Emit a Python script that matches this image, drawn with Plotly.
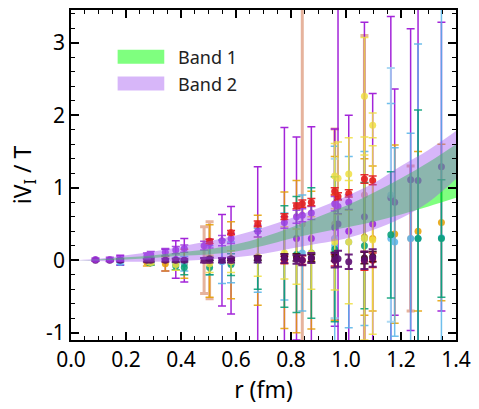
import plotly.graph_objects as go

# ---------------- data ----------------
# upper purple points
r_pu = [0.089, 0.141, 0.179, 0.276, 0.29, 0.343, 0.381, 0.412, 0.484, 0.504, 0.549, 0.582, 0.679, 0.776, 0.82, 0.841, 0.874, 0.959, 0.971, 1.01]
y_pu = [0.01, 0.01, 0.02, 0.06, 0.08, 0.11, 0.14, 0.16, 0.2, 0.23, 0.27, 0.3, 0.4, 0.52, 0.6, 0.62, 0.65, 0.78, 0.74, 0.8]
e_pu = [0.02, 0.03, 0.03, 0.04, 0.04, 0.05, 0.05, 0.05, 0.06, 0.06, 0.07, 0.07, 0.08, 0.08, 0.09, 0.09, 0.09, 0.1, 0.1, 0.1]

# red points
r_rd = [0.504, 0.582, 0.679, 0.776, 0.82, 0.841, 0.874, 0.959, 0.971, 1.01, 1.067, 1.097]
y_rd = [0.26, 0.38, 0.5, 0.6, 0.75, 0.78, 0.8, 0.95, 0.88, 0.92, 1.12, 1.1]
e_rd = [0.03, 0.03, 0.04, 0.04, 0.04, 0.05, 0.05, 0.05, 0.05, 0.05, 0.06, 0.06]

# purple points with large errors
r_pb = [0.179, 0.343, 0.381, 0.412, 0.549, 0.582, 0.679, 0.776, 0.82, 0.874, 0.959, 0.971, 1.01, 1.067, 1.097, 1.163, 1.177, 1.235, 1.262, 1.347]
y_pb = [0.0, 0.0, 0.01, 0.0, 0.0, 0.0, 0.02, 0.05, 0.3, 0.3, 0.45, 0.5, 0.4, 0.6, 0.5, 0.86, 0.8, 1.11, 1.1, 1.29]
e_pb = [0.07, 0.15, 0.26, 0.3, 0.63, 0.74, 1.27, 1.78, 1.4, 1.54, 1.36, 3.5, 1.6, 2.68, 1.8, 2.5, 1.56, 2.08, 3.0, 1.99]

# orange
r_or = [0.276, 0.343, 0.412, 0.504, 0.582, 0.679, 0.776, 0.82, 0.874, 0.959, 1.067, 1.097, 1.177, 1.262, 1.347]
y_or = [-0.03, -0.05, -0.05, -0.01, 0.0, 0.0, 0.0, 0.05, 0.0, 0.3, 0.32, 0.3, 0.36, 0.4, 0.52]
e_or = [0.05, 0.1, 0.2, 0.5, 0.53, 0.62, 0.94, 1.05, 0.95, 1.13, 1.08, 1.0, 1.23, 1.1, 1.08]

# salmon (thick bars)
r_sa = [0.484, 0.504, 0.841, 0.959, 1.067, 1.235]
y_sa = [0.0, 0.0, 0.5, 0.5, 0.9, 0.3]
e_sa = [0.46, 0.53, 3.5, 1.31, 2.2, 1.0]

# yellow, upper points
r_yu = [0.959, 0.971, 1.01, 1.067, 1.097]
y_yu = [1.16, 1.13, 1.19, 2.26, 1.86]
e_yu = [0.45, 0.5, 0.5, 0.81, 0.17]

# yellow, lower points
r_yl = [0.29, 0.381, 0.504, 0.582, 0.679, 0.776, 0.82, 0.874, 0.959, 1.01, 1.067, 1.097]
y_yl = [-0.03, -0.06, -0.05, -0.02, 0.05, 0.1, 0.05, 0.1, 0.25, 0.25, 0.3, 0.28]
e_yl = [0.03, 0.08, 0.12, 0.15, 0.27, 0.36, 0.38, 0.5, 0.66, 0.85, 1.4, 1.3]

# sky blue
r_sk = [0.179, 0.29, 0.381, 0.412, 0.504, 0.549, 0.582, 0.679, 0.776, 0.841, 0.959, 1.01, 1.067, 1.163, 1.177, 1.235, 1.262, 1.347]
y_sk = [-0.03, -0.03, -0.05, -0.05, 0.0, -0.02, -0.03, 0.0, 0.05, 0.1, 0.2, 0.25, 0.3, 0.3, 0.25, 0.3, 0.3, 0.31]
e_sk = [0.03, 0.03, 0.08, 0.1, 0.2, 0.3, 0.28, 0.44, 0.6, 0.8, 1.37, 1.18, 1.2, 1.86, 1.3, 1.45, 2.68, 4.0]

# light blue
r_lb = [0.959, 1.163]
y_lb = [0.3, 0.9]
e_lb = [1.1, 1.75]

# green
r_gr = [0.29, 0.381, 0.412, 0.504, 0.582, 0.679, 0.776, 0.82, 0.874, 0.959, 1.067, 1.163, 1.262, 1.347]
y_gr = [-0.04, -0.08, -0.1, -0.1, -0.06, 0.0, 0.05, 0.08, 0.1, 0.15, 0.2, 0.35, 0.3, 0.3]
e_gr = [0.03, 0.05, 0.1, 0.1, 0.15, 0.4, 0.7, 0.8, 0.9, 1.0, 0.87, 0.87, 1.77, 0.81]

# dark purple, near zero
r_dp = [0.089, 0.141, 0.179, 0.276, 0.29, 0.343, 0.381, 0.412, 0.484, 0.504, 0.549, 0.582, 0.679, 0.776, 0.82, 0.841, 0.874, 0.959, 0.971, 1.01, 1.067, 1.097]
y_dp = [0.0, 0.0, 0.0, 0.0, 0.0, 0.0, 0.0, 0.0, 0.0, 0.0, 0.0, 0.0, 0.01, 0.02, 0.01, 0.0, 0.03, 0.0, 0.02, -0.02, 0.0, 0.03]
e_dp = [0.01, 0.01, 0.02, 0.02, 0.02, 0.02, 0.02, 0.02, 0.03, 0.03, 0.03, 0.03, 0.04, 0.06, 0.06, 0.07, 0.07, 0.1, 0.11, 0.1, 0.12, 0.12]

# dark (near-black), near zero
r_bk = [0.504, 0.582, 0.679, 0.776, 0.82, 0.874, 0.959, 1.067, 1.097]
y_bk = [0.02, 0.02, 0.03, 0.05, 0.04, 0.03, 0.05, 0.03, 0.05]
e_bk = [0.02, 0.02, 0.03, 0.04, 0.05, 0.05, 0.06, 0.08, 0.07]

# red, near zero
r_rl = [0.776, 0.841, 0.959, 1.067, 1.097]
y_rl = [0.0, 0.0, 0.0, -0.01, 0.0]
e_rl = [0.05, 0.06, 0.08, 0.13, 0.1]

# bands
r_band = [0.02, 0.1, 0.2, 0.3, 0.4, 0.5, 0.6, 0.7, 0.8, 0.9, 1.0, 1.1, 1.2, 1.3, 1.4]
b1_lo = [0.0, 0.0, 0.01, 0.03, 0.06, 0.08, 0.12, 0.2, 0.3, 0.38, 0.45, 0.53, 0.63, 0.74, 0.86]
b1_hi = [0.0, 0.01, 0.04, 0.07, 0.11, 0.15, 0.22, 0.32, 0.45, 0.6, 0.75, 0.93, 1.13, 1.35, 1.6]
b2_lo = [0.0, -0.01, -0.02, -0.02, -0.01, 0.01, 0.04, 0.09, 0.16, 0.23, 0.3, 0.42, 0.58, 0.8, 1.12]
b2_hi = [0.0, 0.02, 0.07, 0.12, 0.19, 0.26, 0.34, 0.45, 0.58, 0.72, 0.88, 1.06, 1.3, 1.52, 1.78]

band_names = ["Band 1", "Band 2"]
x_ticks = [0.0, 0.2, 0.4, 0.6, 0.8, 1.0, 1.2, 1.4]
y_ticks = [-1, 0, 1, 2, 3]

# ---------------- figure ----------------
GREEN_FILL = "rgba(0,255,0,0.5)"
PURPLE_FILL = "rgba(160,80,240,0.42)"

fig = go.Figure()

series = [
    (r_sa, y_sa, e_sa, "#D98C6A", 3.0, 0.65),
    (r_pb, y_pb, e_pb, "#9400D3", 1.5, 0.85),
    (r_or, y_or, e_or, "#E69F00", 1.5, 0.85),
    (r_sk, y_sk, e_sk, "#56B4E9", 1.5, 0.85),
    (r_lb, y_lb, e_lb, "#9ED3F2", 2.0, 0.85),
    (r_gr, y_gr, e_gr, "#009E73", 1.5, 0.85),
    (r_yl, y_yl, e_yl, "#F0E040", 1.5, 0.85),
    (r_yu, y_yu, e_yu, "#F0E040", 1.5, 0.85),
    (r_rl, y_rl, e_rl, "#E41A1C", 1.5, 0.9),
    (r_bk, y_bk, e_bk, "#3A0A14", 1.5, 0.9),
    (r_dp, y_dp, e_dp, "#5D0C72", 2.0, 0.9),
    (r_pu, y_pu, e_pu, "#9B30D9", 1.5, 0.85),
    (r_rd, y_rd, e_rd, "#E41A1C", 1.5, 0.9),
]

for rx, yv, ev, col, th, op in series:
    fig.add_trace(go.Scatter(
        x=rx, y=yv, mode="markers",
        marker=dict(color=col, size=7),
        error_y=dict(type="data", array=ev, color=col, thickness=th, width=4),
        opacity=op, showlegend=False, hoverinfo="skip",
    ))

# Band 1 (green)
fig.add_trace(go.Scatter(x=r_band, y=b1_lo, mode="lines", line=dict(width=0, shape="spline"),
                         showlegend=False, hoverinfo="skip"))
fig.add_trace(go.Scatter(x=r_band, y=b1_hi, mode="lines", line=dict(width=0, shape="spline"),
                         fill="tonexty", fillcolor=GREEN_FILL, name=band_names[0],
                         showlegend=False, hoverinfo="skip"))
# Band 2 (purple)
fig.add_trace(go.Scatter(x=r_band, y=b2_lo, mode="lines", line=dict(width=0, shape="spline"),
                         showlegend=False, hoverinfo="skip"))
fig.add_trace(go.Scatter(x=r_band, y=b2_hi, mode="lines", line=dict(width=0, shape="spline"),
                         fill="tonexty", fillcolor=PURPLE_FILL, name=band_names[1],
                         showlegend=False, hoverinfo="skip"))

# legend drawn as swatches + text
L, T, W, H = 71, 8, 388, 332
def px(x):
    return (x - L) / W
def py(y):
    return (T + H - y) / H

for i, (nm, col) in enumerate(zip(band_names, [GREEN_FILL, PURPLE_FILL])):
    yc = 55 + 27 * i
    fig.add_shape(type="rect", xref="paper", yref="paper",
                  x0=px(118), x1=px(165), y0=py(yc + 7), y1=py(yc - 7),
                  fillcolor=col, line=dict(width=0))
    fig.add_annotation(xref="paper", yref="paper", x=px(177), y=py(yc),
                       text=nm, showarrow=False, xanchor="left", yanchor="middle",
                       font=dict(size=18, color="#222"))

axis_common = dict(
    showgrid=False, zeroline=False, showline=True, linecolor="black", linewidth=1.8,
    mirror="allticks", ticks="inside", ticklen=8, tickwidth=1.5, tickcolor="black",
    tickfont=dict(size=21, color="black"),
)

fig.update_xaxes(range=[0, 1.4], tickvals=x_ticks, ticktext=[f"{v:.1f}" for v in x_ticks],
                 minor=dict(dtick=0.05, ticks="inside", ticklen=4, tickwidth=1.2, tickcolor="black"),
                 title=dict(text="r (fm)", font=dict(size=23, color="black"), standoff=8),
                 **axis_common)
fig.update_yaxes(range=[-1.1, 3.45], tickvals=y_ticks, ticktext=[str(v) for v in y_ticks],
                 minor=dict(dtick=0.2, ticks="inside", ticklen=4, tickwidth=1.2, tickcolor="black"),
                 title=dict(text="iV<sub>I</sub> / T", font=dict(size=23, color="black"), standoff=8),
                 **axis_common)

fig.update_layout(
    width=479, height=409,
    margin=dict(l=71, r=20, t=8, b=69),
    paper_bgcolor="white", plot_bgcolor="white",
    font=dict(family="Noto Sans", color="black"),
    showlegend=False,
)

fig.write_html("out.html")
